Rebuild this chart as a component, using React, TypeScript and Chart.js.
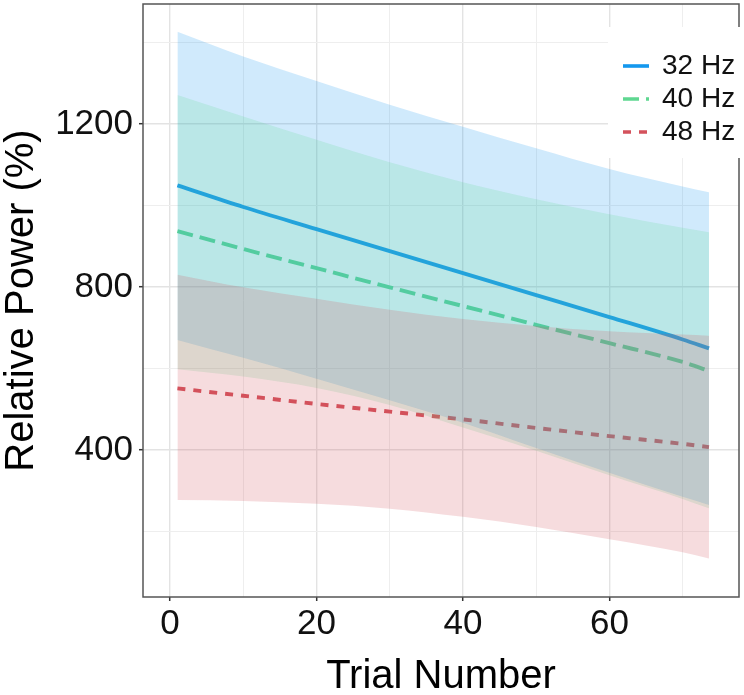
import React, { useEffect, useRef } from 'react';
import { Chart, registerables } from 'chart.js';

Chart.register(...registerables);

// ---------- data ----------
const trials = [1, 10, 20, 30, 40, 50, 60, 70, 73.6];
const seriesNames = ['32 Hz', '40 Hz', '48 Hz'];

const fit32 = [1049, 996, 942, 888, 834, 780, 726, 671, 649];
const upper32 = [1426, 1365, 1305, 1247, 1193, 1140, 1089, 1046, 1032];
const lower32 = [670, 626, 575, 522, 467, 405, 344, 285, 265];

const fit40 = [937, 893, 846, 799, 753, 707, 662, 616, 594];
const upper40 = [1271, 1218, 1161, 1106, 1057, 1015, 978, 945, 934];
const lower40 = [598, 580, 552, 510, 455, 398, 338, 280, 257];

const fit48 = [551, 533, 513, 494, 475, 454, 434, 415, 407];
const upper48 = [830, 799, 771, 744, 721, 704, 691, 683, 680];
const lower48 = [277, 275, 268, 256, 236, 211, 181, 149, 134];

const xTicks = [0, 10, 20, 30, 40, 50, 60, 70];
const xLabeled = [0, 20, 40, 60];
const yTicks = [200, 400, 600, 800, 1000, 1200, 1400];
const yLabeled = [400, 800, 1200];

const xTitle = 'Trial Number';
const yTitle = 'Relative Power (%)';

// ---------- styles ----------
const FAMILY = '"Liberation Sans", Arial, Helvetica, sans-serif';
const lineColors = ['rgb(20,152,238)', 'rgb(95,215,145)', 'rgb(212,82,92)'];
const fillColors = ['rgba(20,152,238,0.2)', 'rgba(95,215,145,0.2)', 'rgba(212,82,92,0.2)'];
const dashes: number[][] = [[], [16, 7], [8, 8]];

export default function App() {
  const ref = useRef<HTMLCanvasElement>(null);

  useEffect(() => {
    const canvas = ref.current;
    if (!canvas) return;
    const pts = (arr: number[]) => trials.map((t, i) => ({ x: t, y: arr[i] }));

    const fits = [fit32, fit40, fit48];
    const uppers = [upper32, upper40, upper48];
    const lowers = [lower32, lower40, lower48];

    const datasets: any[] = [];
    // lines first (drawn underneath the ribbons, as in the reference)
    fits.forEach((f, i) => {
      datasets.push({
        label: seriesNames[i],
        data: pts(f),
        borderColor: lineColors[i],
        borderWidth: 3.9,
        borderDash: dashes[i],
        borderCapStyle: 'butt',
        pointRadius: 0,
        fill: false,
        cubicInterpolationMode: 'monotone',
        order: 10,
      });
    });
    // ribbons
    uppers.forEach((u, i) => {
      datasets.push({
        label: seriesNames[i] + ' upper',
        data: pts(u),
        borderColor: 'transparent',
        borderWidth: 0,
        backgroundColor: fillColors[i],
        pointRadius: 0,
        fill: '+1',
        cubicInterpolationMode: 'monotone',
        order: 3 - i,
      });
      datasets.push({
        label: seriesNames[i] + ' lower',
        data: pts(lowers[i]),
        borderColor: 'transparent',
        borderWidth: 0,
        pointRadius: 0,
        fill: false,
        cubicInterpolationMode: 'monotone',
        order: 3 - i,
      });
    });

    const framePlugin = {
      id: 'frame',
      afterDatasetsDraw(chart: any) {
        const { ctx, chartArea } = chart;
        ctx.save();
        ctx.strokeStyle = '#555555';
        ctx.lineWidth = 1.5;
        ctx.setLineDash([]);
        ctx.strokeRect(chartArea.left, chartArea.top, chartArea.right - chartArea.left, chartArea.bottom - chartArea.top);
        ctx.restore();
      },
    };

    const legendPlugin = {
      id: 'customLegend',
      afterDraw(chart: any) {
        const { ctx, chartArea } = chart;
        const boxLeft = chartArea.right - 131;
        const boxTop = chartArea.top + 23;
        ctx.save();
        ctx.fillStyle = '#ffffff';
        ctx.fillRect(boxLeft, boxTop, 140, 131);
        const keyX0 = boxLeft + 15;
        const keyX1 = boxLeft + 41;
        const textX = boxLeft + 54;
        ctx.font = `28px ${FAMILY}`;
        ctx.textBaseline = 'middle';
        ctx.textAlign = 'left';
        seriesNames.forEach((name, i) => {
          const y = boxTop + 39 + i * 33;
          ctx.beginPath();
          ctx.setLineDash(dashes[i]);
          ctx.lineCap = 'butt';
          ctx.strokeStyle = lineColors[i];
          ctx.lineWidth = 3.6;
          ctx.moveTo(keyX0, y);
          ctx.lineTo(keyX1, y);
          ctx.stroke();
          ctx.setLineDash([]);
          ctx.fillStyle = '#111111';
          ctx.fillText(name, textX, y);
        });
        ctx.restore();
      },
    };

    const majorX = (v: number) => xLabeled.includes(v);
    const majorY = (v: number) => yLabeled.includes(v);

    const chart = new Chart(canvas, {
      type: 'line',
      data: { datasets },
      options: {
        animation: false,
        responsive: false,
        devicePixelRatio: 1,
        layout: { padding: { top: 4, right: 5, left: 0, bottom: 0 } },
        plugins: {
          legend: { display: false },
          tooltip: { enabled: false },
        },
        scales: {
          x: {
            type: 'linear',
            min: -3.7,
            max: 77.7,
            afterBuildTicks: (s: any) => {
              s.ticks = xTicks.map((v) => ({ value: v }));
            },
            afterFit: (s: any) => {
              s.height = 98;
              s.paddingLeft = 0;
              s.paddingRight = 0;
            },
            ticks: {
              autoSkip: false,
              maxRotation: 0,
              minRotation: 0,
              padding: 2,
              color: '#111111',
              font: { family: FAMILY, size: 35, lineHeight: 1.2 },
              callback: (v: any) => (majorX(Number(v)) ? String(v) : ''),
            },
            grid: {
              color: (c: any) => (c.tick && majorX(c.tick.value) ? '#e3e3e3' : '#eeeeee'),
              lineWidth: (c: any) => (c.tick && majorX(c.tick.value) ? 1.4 : 1),
              drawTicks: true,
              tickLength: 4,
              tickWidth: 1.5,
              tickColor: (c: any) => (c.tick && majorX(c.tick.value) ? '#333333' : 'rgba(0,0,0,0)'),
            },
            border: { display: false },
            title: {
              display: true,
              text: xTitle,
              color: '#000000',
              font: { family: FAMILY, size: 40, lineHeight: 0.9 },
              padding: 0,
            },
          },
          y: {
            type: 'linear',
            min: 39.3,
            max: 1494,
            afterBuildTicks: (s: any) => {
              s.ticks = yTicks.map((v) => ({ value: v }));
            },
            afterFit: (s: any) => {
              s.width = 143;
              s.paddingTop = 0;
              s.paddingBottom = 0;
            },
            ticks: {
              autoSkip: false,
              padding: 6,
              color: '#111111',
              font: { family: FAMILY, size: 35, lineHeight: 1.2 },
              callback: (v: any) => (majorY(Number(v)) ? String(v) : ''),
            },
            grid: {
              color: (c: any) => (c.tick && majorY(c.tick.value) ? '#e3e3e3' : '#eeeeee'),
              lineWidth: (c: any) => (c.tick && majorY(c.tick.value) ? 1.4 : 1),
              drawTicks: true,
              tickLength: 4,
              tickWidth: 1.5,
              tickColor: (c: any) => (c.tick && majorY(c.tick.value) ? '#333333' : 'rgba(0,0,0,0)'),
            },
            border: { display: false },
            title: {
              display: true,
              text: yTitle,
              color: '#000000',
              font: { family: FAMILY, size: 40, lineHeight: 1.0 },
              padding: { top: 2, bottom: 0 },
            },
          },
        },
      } as any,
      plugins: [framePlugin, legendPlugin],
    });

    return () => chart.destroy();
  }, []);

  return (
    <div style={{ position: 'fixed', left: 0, top: 0, width: 744, height: 695, background: '#ffffff' }}>
      <canvas ref={ref} width={744} height={695} style={{ display: 'block', width: 744, height: 695 }} />
    </div>
  );
}
